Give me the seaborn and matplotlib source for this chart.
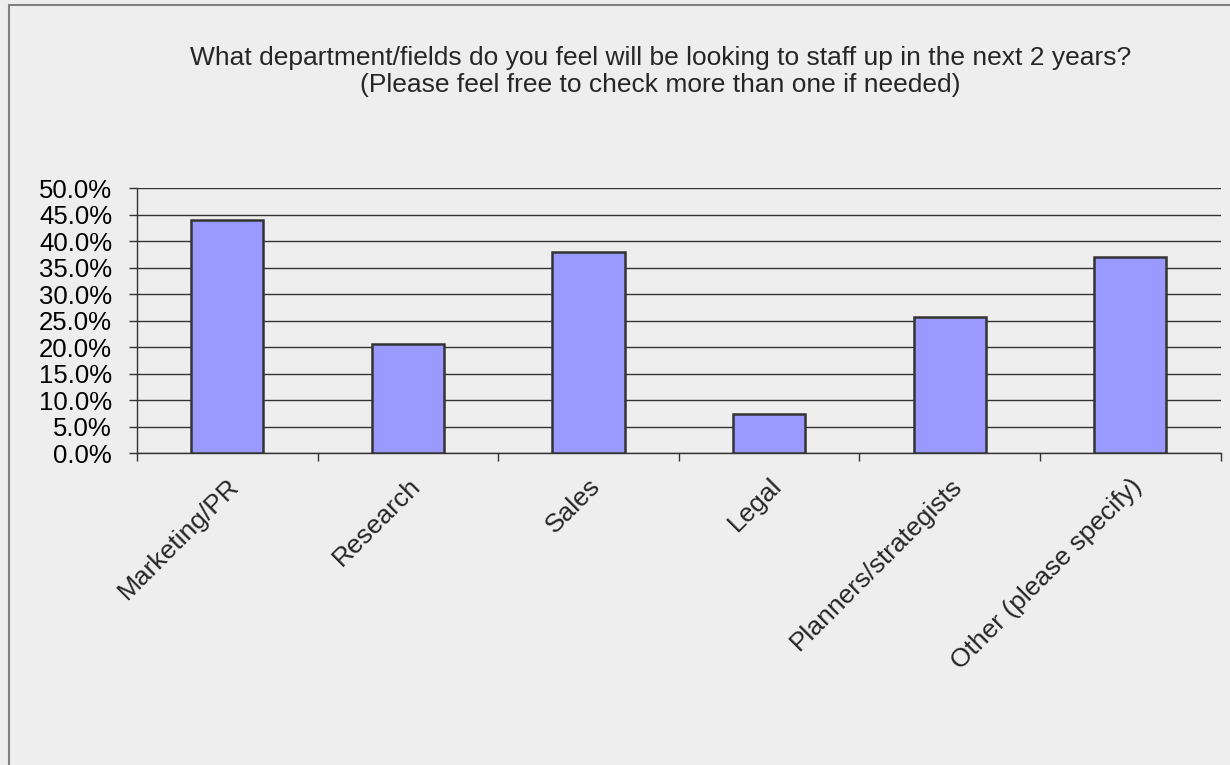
import matplotlib
matplotlib.use("Agg")
import matplotlib.pyplot as plt
import matplotlib.ticker as mticker
from matplotlib.patches import Rectangle
import seaborn as sns
import pandas as pd

# data
departments = ["Marketing/PR", "Research", "Sales", "Legal",
               "Planners/strategists", "Other (please specify)"]
share = [43.9, 20.5, 37.9, 7.4, 25.6, 36.9]
y_ticks = [0, 5, 10, 15, 20, 25, 30, 35, 40, 45, 50]

title = ("What department/fields do you feel will be looking to staff up in the next 2 years?\n"
         "(Please feel free to check more than one if needed)")

df = pd.DataFrame({"department": departments, "share": share})

sns.set_style("white")
plt.rcParams["font.family"] = ["Liberation Sans", "DejaVu Sans"]

bg = "#eeeeee"
fig = plt.figure(figsize=(12.3, 7.65), dpi=100, facecolor=bg)
ax = fig.add_axes([0.1114, 0.4078, 0.8809, 0.3464])
ax.set_facecolor(bg)

# figure border (right/bottom fall outside the image, as in the reference)
fig.patches.append(Rectangle((9 / 1230, -0.05), 1.2, 1 - 5 / 765 + 0.05,
                             transform=fig.transFigure, fill=False,
                             edgecolor="#808080", linewidth=1.5))

sns.barplot(data=df, x="department", y="share", ax=ax, color="#9999ff",
            saturation=1, width=0.4, edgecolor="#333333", linewidth=1.8,
            zorder=3)

ax.set_xlim(-0.5, len(departments) - 0.5)
ax.set_ylim(0, 50)
ax.set_yticks(y_ticks)
ax.yaxis.set_major_formatter(mticker.FuncFormatter(lambda v, p: f"{v:.1f}%"))
ax.grid(axis="y", color="#333333", linewidth=1, zorder=0)
ax.set_axisbelow(True)

for s in ["top", "right"]:
    ax.spines[s].set_visible(False)
for s in ["left", "bottom"]:
    ax.spines[s].set_color("#333333")
    ax.spines[s].set_linewidth(1)

ax.tick_params(axis="y", length=6, width=1, color="#333333", labelsize=18.5,
               labelcolor="black", pad=12, direction="out", left=True)
ax.set_xticks(range(len(departments)))
ax.set_xticklabels(departments, rotation=45, ha="right",
                   rotation_mode="anchor", fontsize=19)
ax.tick_params(axis="x", which="major", length=0, pad=15)
ax.set_xticks([i - 0.5 for i in range(len(departments) + 1)], minor=True)
ax.tick_params(axis="x", which="minor", length=6, width=1,
               color="#333333", direction="out", bottom=True)
ax.set_xlabel("")
ax.set_ylabel("")

fig.text(0.537, 0.94, title, ha="center", va="top", fontsize=19,
         color="#262626", linespacing=1.15)

fig.savefig("out.png", dpi=100, facecolor=bg)
